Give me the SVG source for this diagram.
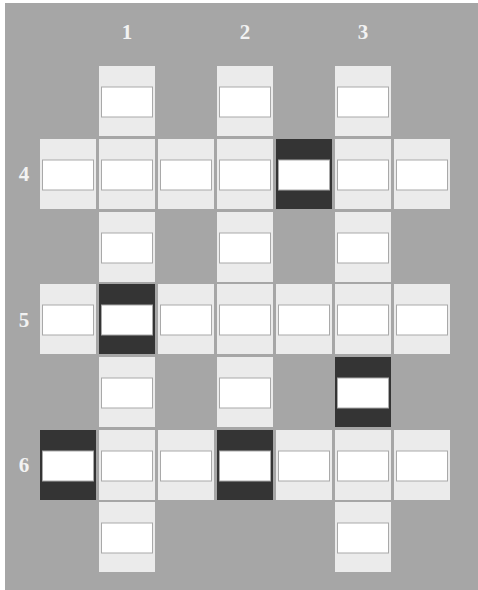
<svg xmlns="http://www.w3.org/2000/svg" width="478" height="590" viewBox="0 0 478 590">
<defs>
<style>
.bg{fill:#a6a6a6}
.cell{fill:#ebebeb}
.dark{fill:#343434}
.win{fill:#ffffff;stroke:#a9a9a9;stroke-width:1}
.lbl{font-family:"Liberation Serif",serif;font-size:21px;font-weight:bold;fill:#f2f2f2;text-anchor:middle}
</style>
<g id="L">
<rect class="cell" x="0" y="0" width="56" height="70"/>
<rect class="win" x="2.5" y="21" width="51" height="30"/>
</g>
<g id="D">
<rect class="dark" x="0" y="0" width="56" height="70"/>
<rect class="win" x="2.5" y="21" width="51" height="30"/>
</g>
</defs>
<rect x="0" y="0" width="478" height="590" fill="#ffffff"/>
<rect class="bg" x="5" y="3" width="473" height="587"/>
<g id="labels">
<text class="lbl" x="127" y="39">1</text>
<text class="lbl" x="245" y="39">2</text>
<text class="lbl" x="363" y="39">3</text>
<text class="lbl" x="24" y="181">4</text>
<text class="lbl" x="24" y="327">5</text>
<text class="lbl" x="24" y="472">6</text>
</g>
<g id="connectors"></g>
<g id="row0">
<g id="r0c1"><use href="#L" x="99" y="66"/></g>
<g id="r0c3"><use href="#L" x="217" y="66"/></g>
<g id="r0c5"><use href="#L" x="335" y="66"/></g>
</g>
<g id="row1">
<g id="r1c0"><use href="#L" x="40" y="139"/></g>
<g id="r1c1"><use href="#L" x="99" y="139"/></g>
<g id="r1c2"><use href="#L" x="158" y="139"/></g>
<g id="r1c3"><use href="#L" x="217" y="139"/></g>
<g id="r1c4"><use href="#D" x="276" y="139"/></g>
<g id="r1c5"><use href="#L" x="335" y="139"/></g>
<g id="r1c6"><use href="#L" x="394" y="139"/></g>
</g>
<g id="row2">
<g id="r2c1"><use href="#L" x="99" y="212"/></g>
<g id="r2c3"><use href="#L" x="217" y="212"/></g>
<g id="r2c5"><use href="#L" x="335" y="212"/></g>
</g>
<g id="row3">
<g id="r3c0"><use href="#L" x="40" y="284"/></g>
<g id="r3c1"><use href="#D" x="99" y="284"/></g>
<g id="r3c2"><use href="#L" x="158" y="284"/></g>
<g id="r3c3"><use href="#L" x="217" y="284"/></g>
<g id="r3c4"><use href="#L" x="276" y="284"/></g>
<g id="r3c5"><use href="#L" x="335" y="284"/></g>
<g id="r3c6"><use href="#L" x="394" y="284"/></g>
</g>
<g id="row4">
<g id="r4c1"><use href="#L" x="99" y="357"/></g>
<g id="r4c3"><use href="#L" x="217" y="357"/></g>
<g id="r4c5"><use href="#D" x="335" y="357"/></g>
</g>
<g id="row5">
<g id="r5c0"><use href="#D" x="40" y="430"/></g>
<g id="r5c1"><use href="#L" x="99" y="430"/></g>
<g id="r5c2"><use href="#L" x="158" y="430"/></g>
<g id="r5c3"><use href="#D" x="217" y="430"/></g>
<g id="r5c4"><use href="#L" x="276" y="430"/></g>
<g id="r5c5"><use href="#L" x="335" y="430"/></g>
<g id="r5c6"><use href="#L" x="394" y="430"/></g>
</g>
<g id="row6">
<g id="r6c1"><use href="#L" x="99" y="502"/></g>
<g id="r6c5"><use href="#L" x="335" y="502"/></g>
</g>
</svg>
